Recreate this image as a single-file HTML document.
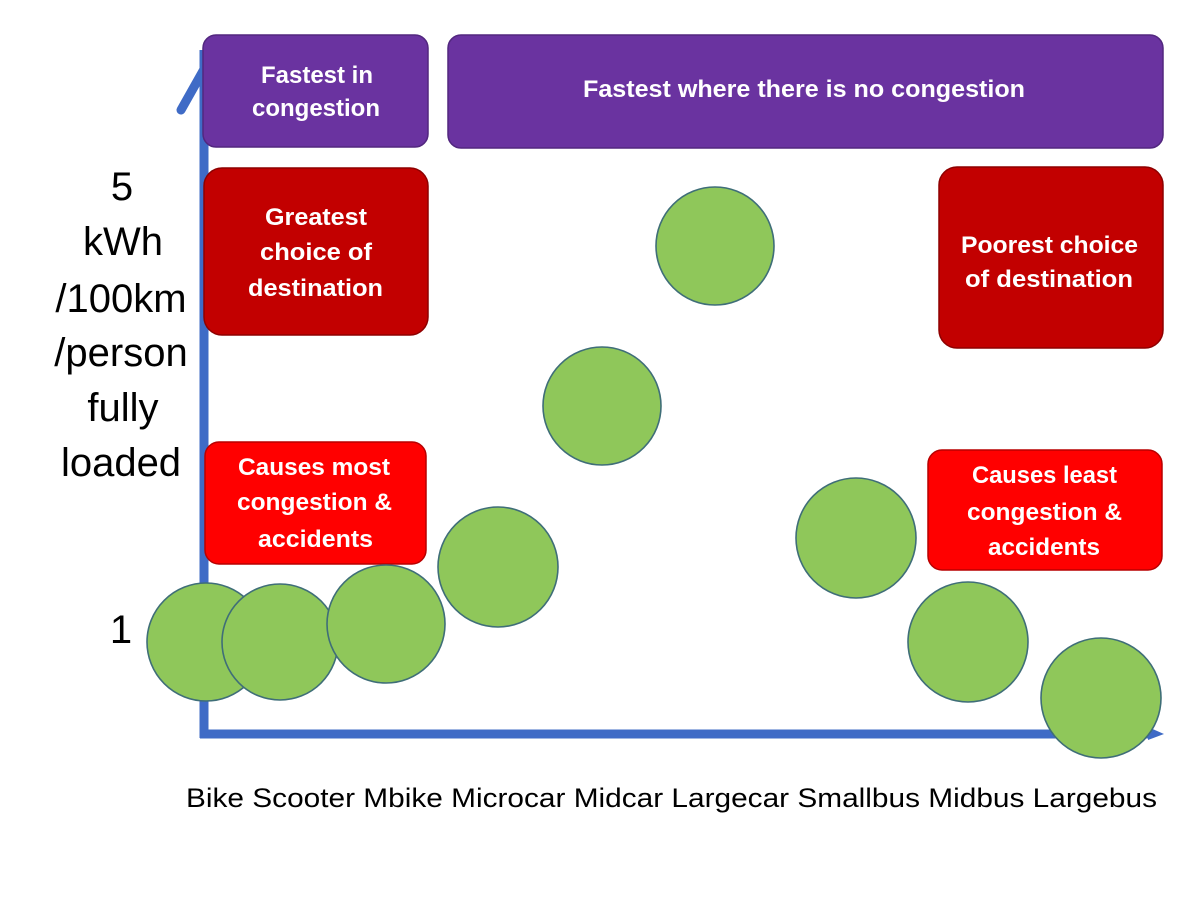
<!DOCTYPE html>
<html>
<head>
<meta charset="utf-8">
<style>
html,body{margin:0;padding:0;background:#fff;}
svg{display:block;}
</style>
</head>
<body>
<svg width="1200" height="903" viewBox="0 0 1200 903" xmlns="http://www.w3.org/2000/svg">
<rect x="0" y="0" width="1200" height="903" fill="#ffffff"/>

<!-- Axes -->
<g stroke="#3F6BC6" stroke-width="9" fill="none">
  <line x1="204" y1="50" x2="204" y2="738"/>
  <line x1="200" y1="734" x2="1152" y2="734"/>
  <line x1="181" y1="110" x2="212" y2="55" stroke-linecap="round"/>
</g>
<polygon points="1148,727 1164,734 1148,740" fill="#3F6BC6"/>

<!-- Purple boxes -->
<rect x="203" y="35" width="225" height="112" rx="13" fill="#6A33A0" stroke="#52277F" stroke-width="1.5"/>
<rect x="448" y="35" width="715" height="113" rx="13" fill="#6A33A0" stroke="#52277F" stroke-width="1.5"/>

<!-- Dark red boxes -->
<rect x="204" y="168" width="224" height="167" rx="18" fill="#C20000" stroke="#8E0000" stroke-width="1.5"/>
<rect x="939" y="167" width="224" height="181" rx="18" fill="#C20000" stroke="#8E0000" stroke-width="1.5"/>

<!-- Bright red boxes -->
<rect x="205" y="442" width="221" height="122" rx="14" fill="#FF0000" stroke="#B80000" stroke-width="1.5"/>
<rect x="928" y="450" width="234" height="120" rx="14" fill="#FF0000" stroke="#B80000" stroke-width="1.5"/>

<!-- Circles -->
<g fill="#8FC75A" stroke="#3F6E78" stroke-width="1.6">
  <circle cx="206" cy="642" r="59"/>
  <circle cx="280" cy="642" r="58"/>
  <circle cx="386" cy="624" r="59"/>
  <circle cx="498" cy="567" r="60"/>
  <circle cx="602" cy="406" r="59"/>
  <circle cx="715" cy="246" r="59"/>
  <circle cx="856" cy="538" r="60"/>
  <circle cx="968" cy="642" r="60"/>
  <circle cx="1101" cy="698" r="60"/>
</g>

<!-- Box labels -->
<g font-family="'Liberation Sans', sans-serif" font-weight="bold" font-size="24" fill="#ffffff">
  <text x="261" y="83" textLength="112" lengthAdjust="spacingAndGlyphs">Fastest in</text>
  <text x="252" y="116" textLength="128" lengthAdjust="spacingAndGlyphs">congestion</text>
  <text x="583" y="97" textLength="442" lengthAdjust="spacingAndGlyphs">Fastest where there is no congestion</text>

  <text x="265" y="225" textLength="102" lengthAdjust="spacingAndGlyphs">Greatest</text>
  <text x="260" y="260" textLength="112" lengthAdjust="spacingAndGlyphs">choice of</text>
  <text x="248" y="296" textLength="135" lengthAdjust="spacingAndGlyphs">destination</text>

  <text x="961" y="253" textLength="177" lengthAdjust="spacingAndGlyphs">Poorest choice</text>
  <text x="965" y="287" textLength="168" lengthAdjust="spacingAndGlyphs">of destination</text>

  <text x="238" y="475" textLength="152" lengthAdjust="spacingAndGlyphs">Causes most</text>
  <text x="237" y="510" textLength="155" lengthAdjust="spacingAndGlyphs">congestion &amp;</text>
  <text x="258" y="547" textLength="115" lengthAdjust="spacingAndGlyphs">accidents</text>

  <text x="972" y="483" textLength="145" lengthAdjust="spacingAndGlyphs">Causes least</text>
  <text x="967" y="520" textLength="155" lengthAdjust="spacingAndGlyphs">congestion &amp;</text>
  <text x="988" y="555" textLength="112" lengthAdjust="spacingAndGlyphs">accidents</text>
</g>

<!-- Y axis labels -->
<g font-family="'Liberation Sans', sans-serif" font-size="40" fill="#000000" text-anchor="middle">
  <text x="122" y="200">5</text>
  <text x="123" y="255">kWh</text>
  <text x="121" y="312">/100km</text>
  <text x="121" y="366">/person</text>
  <text x="123" y="421">fully</text>
  <text x="121" y="476">loaded</text>
  <text x="121" y="643">1</text>
</g>

<!-- X axis labels -->
<text x="186" y="807" font-family="'Liberation Sans', sans-serif" font-size="27" fill="#000000" textLength="971" lengthAdjust="spacingAndGlyphs">Bike Scooter Mbike Microcar Midcar Largecar Smallbus Midbus Largebus</text>
</svg>
</body>
</html>
